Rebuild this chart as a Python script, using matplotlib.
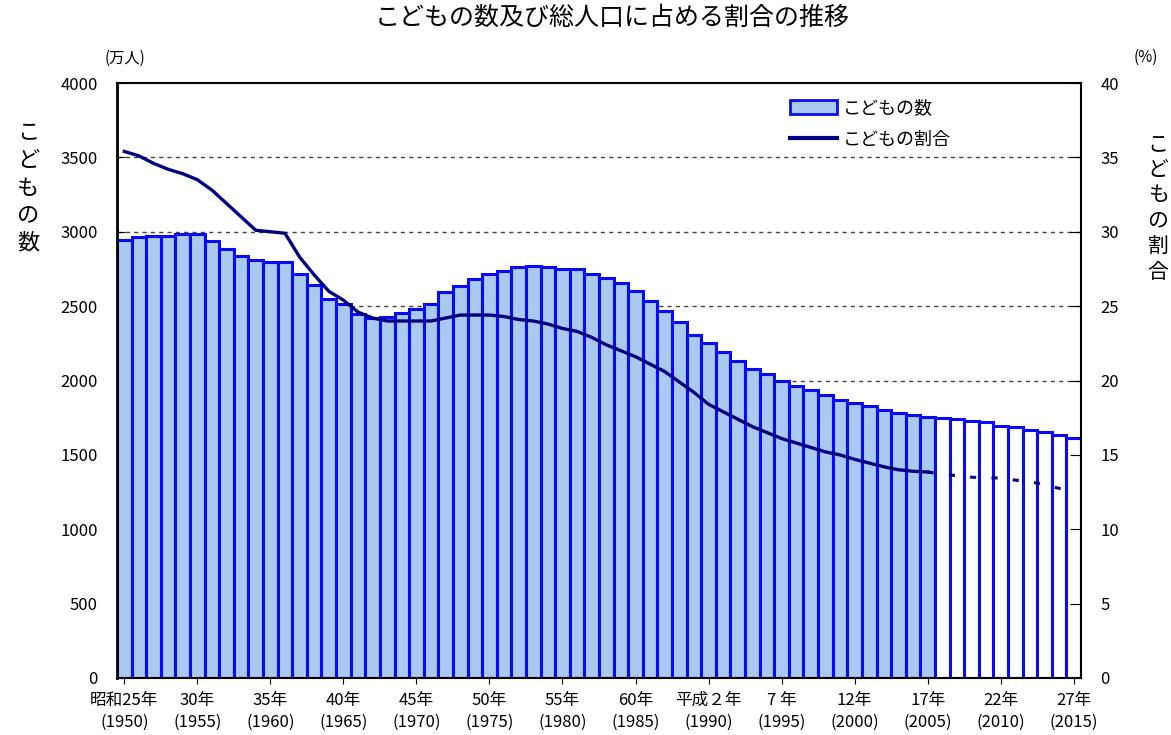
import matplotlib
matplotlib.use("Agg")
import matplotlib.pyplot as plt
from matplotlib.patches import Patch
from matplotlib.lines import Line2D

plt.rcParams["font.family"] = ["Noto Sans CJK JP", "DejaVu Sans"]

# data (万人 / %), 1950-2015; 2006 以降は推計
years = list(range(1950, 2016))
children = [
    2943, 2967, 2970, 2970, 2988, 2985, 2935, 2885, 2840, 2810,
    2800, 2800, 2716, 2642, 2550, 2515, 2448, 2420, 2430, 2456,
    2482, 2512, 2593, 2637, 2682, 2714, 2738, 2765, 2767, 2765,
    2751, 2752, 2716, 2687, 2653, 2600, 2537, 2470, 2396, 2306,
    2250, 2194, 2131, 2075, 2042, 2000, 1963, 1936, 1903, 1869,
    1847, 1831, 1802, 1779, 1768, 1757, 1750, 1739, 1730, 1723,
    1696, 1685, 1667, 1656, 1634, 1611,
]
ratio = [
    35.4, 35.1, 34.6, 34.2, 33.9, 33.5, 32.8, 31.9, 31.0, 30.1,
    30.0, 29.9, 28.3, 27.1, 26.0, 25.4, 24.6, 24.2, 24.0, 24.0,
    24.0, 24.0, 24.2, 24.4, 24.4, 24.4, 24.3, 24.1, 24.0, 23.8,
    23.5, 23.3, 22.9, 22.4, 22.0, 21.6, 21.1, 20.6, 19.9, 19.2,
    18.4, 17.9, 17.4, 16.9, 16.5, 16.1, 15.8, 15.5, 15.2, 15.0,
    14.7, 14.45, 14.2, 14.0, 13.9, 13.85, 13.7, 13.6, 13.5, 13.45,
    13.45, 13.3, 13.2, 13.0, 12.75, 12.75,
]
last_actual = 2005
tick_years = list(range(1950, 2016, 5))
tick_labels = [
    "昭和25年\n(1950)", "30年\n(1955)", "35年\n(1960)", "40年\n(1965)",
    "45年\n(1970)", "50年\n(1975)", "55年\n(1980)", "60年\n(1985)",
    "平成２年\n(1990)", "7 年\n(1995)", "12年\n(2000)", "17年\n(2005)",
    "22年\n(2010)", "27年\n(2015)",
]

FILL = "#A9C9F1"
EDGE = "#0A0AF5"
NAVY = "#000080"

fig = plt.figure(figsize=(11.71, 7.35), dpi=100)
ax = fig.add_axes([117 / 1171, 1 - 678 / 735, (1081 - 117) / 1171, (678 - 83) / 735])

idx = list(range(len(years)))
n_act = years.index(last_actual) + 1
colors = [FILL if y <= last_actual else "white" for y in years]
ax.bar(idx, children, width=1.0, color=colors, edgecolor=EDGE, linewidth=2.2, zorder=2)

ax.set_xlim(-0.5, len(years) - 0.5)
ax.set_ylim(0, 4000)
ax.set_yticks(range(0, 4001, 500))
for v in range(500, 4000, 500):
    ax.axhline(v, color="#444444", lw=1.0, ls=(0, (3, 3)), zorder=1)

ax.set_xticks([years.index(y) for y in tick_years])
ax.set_xticklabels(tick_labels, fontsize=12, linespacing=1.35)
ax.tick_params(axis="x", direction="out", length=4, pad=6)
ax.tick_params(axis="y", direction="in", length=6, pad=14, labelsize=12)
for s in ax.spines.values():
    s.set_color("black")
    s.set_linewidth(1.5)
ax.spines["left"].set_linewidth(2)

ax2 = ax.twinx()
ax2.set_ylim(0, 40)
ax2.set_yticks(range(0, 41, 5))
ax2.tick_params(axis="y", direction="in", length=8, pad=14, labelsize=12)
ax2.plot(idx[:n_act], ratio[:n_act], color=NAVY, lw=2.4, zorder=3)
ax2.plot(idx[n_act - 1:], ratio[n_act - 1:], color=NAVY, lw=2.2,
         ls=(0, (2, 5)), zorder=3)
for s in ax2.spines.values():
    s.set_visible(False)

handles = [
    Patch(facecolor=FILL, edgecolor=EDGE, linewidth=2),
    Line2D([0], [0], color=NAVY, lw=3),
]
fig.legend(handles, ["こどもの数", "こどもの割合"], loc="upper left",
           bbox_to_anchor=(781 / 1171, 1 - 90 / 735), frameon=False,
           fontsize=13, handlelength=2.6, handleheight=0.8,
           handletextpad=0.3, borderpad=0, labelspacing=0.75)

fig.text(612 / 1171, 1 - 18 / 735, "こどもの数及び総人口に占める割合の推移",
         ha="center", va="center", fontsize=18)
fig.text(125 / 1171, 1 - 58 / 735, "(万人)", ha="center", va="center", fontsize=11)
fig.text(1146 / 1171, 1 - 57 / 735, "(%)", ha="center", va="center", fontsize=11)
fig.text(28 / 1171, 1 - 188 / 735, "\n".join("こどもの数"), ha="center",
         va="center", fontsize=16, linespacing=1.25)
fig.text(1158 / 1171, 1 - 208 / 735, "\n".join("こどもの割合"), ha="center",
         va="center", fontsize=15, linespacing=1.2)

fig.savefig("out.png", dpi=100)
